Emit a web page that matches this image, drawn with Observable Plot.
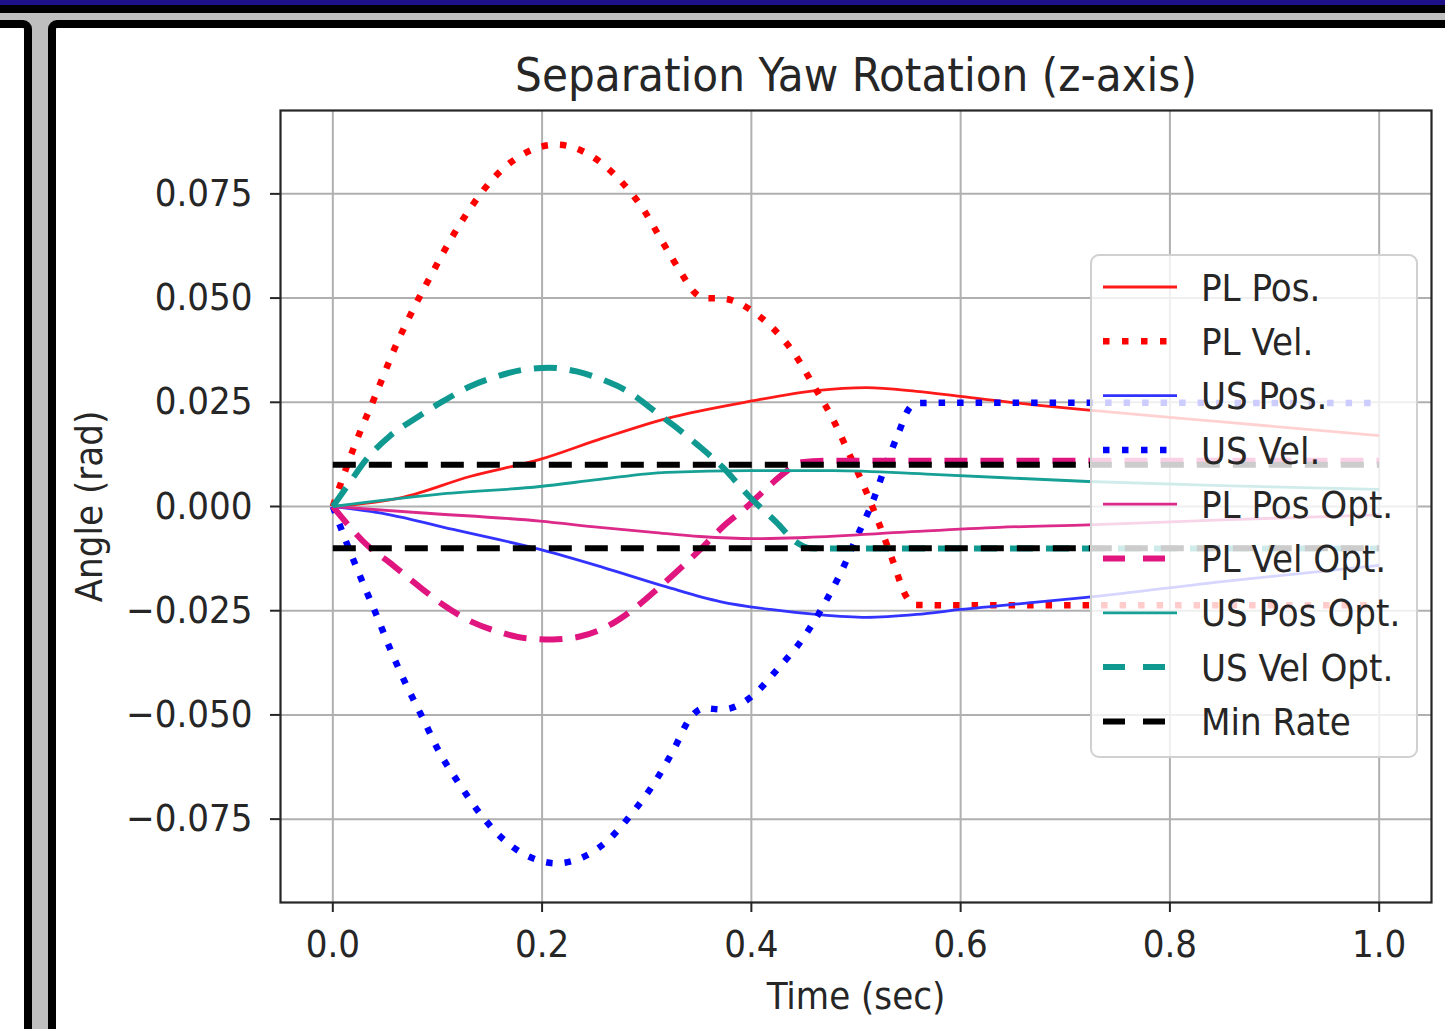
<!DOCTYPE html>
<html>
<head>
<meta charset="utf-8">
<script src="https://cdn.jsdelivr.net/npm/d3@7"></script>
<script src="https://cdn.jsdelivr.net/npm/@observablehq/plot@0.6"></script>
<style>
html, body { margin: 0; padding: 0; }
body { width: 1445px; height: 1029px; overflow: hidden; position: relative; background: #bfbfbf; }
#navy { position: absolute; left: 0; top: 0; width: 1445px; height: 5px; background: #1e1288; }
#blk { position: absolute; left: 0; top: 5px; width: 1445px; height: 8px; background: #000; }
#leftpanel { position: absolute; left: -20px; top: 20px; width: 36px; height: 1100px; border: 8px solid #000; border-radius: 0 9px 0 0; background: #fff; }
#mainpanel { position: absolute; left: 48px; top: 20px; width: 1500px; height: 1100px; border: 8px solid #000; border-radius: 9px 0 0 0; background: #fff; }
#chart { position: absolute; left: 0; top: 0; }
</style>
</head>
<body>
<div id="navy"></div>
<div id="blk"></div>
<div id="leftpanel"></div>
<div id="mainpanel"></div>
<div id="chart"></div>
<script>
// ---- text ----
const chartTitle = "Separation Yaw Rotation (z-axis)";
const xLabel = "Time (sec)";
const yLabel = "Angle (rad)";
const xTicks = [0, 0.2, 0.4, 0.6, 0.8, 1.0];
const yTicks = [-0.075, -0.05, -0.025, 0, 0.025, 0.05, 0.075];

// ---- series (time, value) ----
const plPosT = [0, 0.067, 0.131, 0.198, 0.258, 0.319, 0.398, 0.462, 0.51, 0.558, 0.6, 0.67, 0.72, 0.85, 1.0];
const plPos  = [0, 0.0022, 0.0072, 0.0113, 0.0164, 0.0211, 0.0252, 0.0278, 0.0285, 0.0276, 0.0264, 0.0244, 0.0232, 0.0203, 0.017];

const plVelT = [0, 0.02, 0.041, 0.062, 0.078, 0.095, 0.112, 0.131, 0.153, 0.181, 0.214, 0.247, 0.274, 0.297, 0.315, 0.334, 0.345, 0.355, 0.372, 0.389, 0.403, 0.418, 0.441, 0.46, 0.478, 0.493, 0.508, 0.522, 0.535, 0.548, 0.557, 0.6, 1.0];
const plVel  = [0, 0.0141, 0.0268, 0.0396, 0.0479, 0.056, 0.0638, 0.0714, 0.0786, 0.0844, 0.0868, 0.0841, 0.0784, 0.0712, 0.0635, 0.0556, 0.0515, 0.05, 0.0499, 0.0487, 0.0465, 0.0434, 0.0367, 0.0288, 0.0209, 0.0129, 0.0046, -0.0041, -0.0129, -0.0216, -0.0236, -0.0237, -0.0237];

const usPosT = [0, 0.051, 0.115, 0.198, 0.258, 0.319, 0.37, 0.418, 0.462, 0.51, 0.558, 0.6, 0.67, 0.72, 0.85, 1.0];
const usPos  = [0, -0.0018, -0.0055, -0.0103, -0.0146, -0.0193, -0.0228, -0.0247, -0.0259, -0.0266, -0.0259, -0.0247, -0.023, -0.0218, -0.018, -0.0141];

const usVelT = [0, 0.013, 0.027, 0.041, 0.055, 0.07, 0.086, 0.102, 0.121, 0.142, 0.166, 0.197, 0.214, 0.231, 0.262, 0.286, 0.307, 0.325, 0.342, 0.355, 0.372, 0.389, 0.403, 0.425, 0.45, 0.469, 0.486, 0.501, 0.516, 0.528, 0.542, 0.549, 0.558, 0.6, 1.0];
const usVel  = [0, -0.0086, -0.0173, -0.0256, -0.0343, -0.0427, -0.0508, -0.059, -0.0666, -0.0741, -0.0805, -0.0849, -0.0856, -0.0849, -0.0803, -0.0736, -0.0664, -0.0587, -0.0506, -0.0484, -0.0487, -0.0475, -0.045, -0.039, -0.0314, -0.0237, -0.0156, -0.0072, 0.0012, 0.0096, 0.0185, 0.0228, 0.0248, 0.0249, 0.0248];

const plPosOptT = [0, 0.083, 0.198, 0.255, 0.306, 0.351, 0.402, 0.446, 0.542, 0.637, 0.722, 0.85, 1.0];
const plPosOpt  = [0, -0.0015, -0.0035, -0.005, -0.0062, -0.0072, -0.0077, -0.0075, -0.0062, -0.005, -0.0044, -0.0032, -0.002];

const plVelOptT = [0, 0.016, 0.032, 0.054, 0.08, 0.105, 0.134, 0.16, 0.185, 0.21, 0.236, 0.262, 0.287, 0.312, 0.334, 0.354, 0.373, 0.396, 0.415, 0.434, 0.448, 0.47, 1.0];
const plVelOpt  = [0, -0.0048, -0.0091, -0.0134, -0.0187, -0.0235, -0.0278, -0.0302, -0.0316, -0.0319, -0.0312, -0.0288, -0.0247, -0.0194, -0.0144, -0.0096, -0.0048, 0, 0.0045, 0.0085, 0.0106, 0.011, 0.011];

const usPosOptT = [0, 0.1, 0.198, 0.255, 0.319, 0.398, 0.478, 0.573, 0.722, 0.85, 1.0];
const usPosOpt  = [0, 0.0029, 0.0048, 0.0065, 0.0082, 0.0086, 0.0086, 0.0077, 0.006, 0.005, 0.0041];

const usVelOptT = [0, 0.016, 0.032, 0.054, 0.08, 0.105, 0.131, 0.157, 0.182, 0.207, 0.233, 0.258, 0.284, 0.306, 0.327, 0.348, 0.373, 0.398, 0.424, 0.443, 0.456, 0.48, 1.0];
const usVelOpt  = [0, 0.0057, 0.0113, 0.0168, 0.0213, 0.0252, 0.0288, 0.0312, 0.0328, 0.0333, 0.0324, 0.0304, 0.0273, 0.0232, 0.0192, 0.0149, 0.0093, 0.0024, -0.0038, -0.0086, -0.01, -0.0101, -0.0101];

const minRateT = [0, 1.0];
const minRateLevels = [0.01, -0.01];

// ---- series styling ----
const seriesNames = ["PL Pos.", "PL Vel.", "US Pos.", "US Vel.", "PL Pos Opt.", "PL Vel Opt.", "US Pos Opt.", "US Vel Opt.", "Min Rate"];
const seriesColors = ["#ff1a1a", "#ff0000", "#3333ff", "#0000ff", "#dc2a8a", "#e0157f", "#16a096", "#0f9990", "#000000"];
const SOLID = null, DOT = "6.5,12", DASH = "23,13";
const seriesDash = [SOLID, DOT, SOLID, DOT, SOLID, DASH, SOLID, DASH, DASH];
const legendDash = [SOLID, "6.5,12.5", SOLID, "6.5,12.5", SOLID, "22,18", SOLID, "22,18", "22,18"];
const seriesWidth = [2.8, 6.5, 2.8, 6.5, 2.8, 6, 2.8, 6, 6];

const seriesT = [plPosT, plVelT, usPosT, usVelT, plPosOptT, plVelOptT, usPosOptT, usVelOptT];
const seriesV = [plPos, plVel, usPos, usVel, plPosOpt, plVelOpt, usPosOpt, usVelOpt];

const FONT = "'DejaVu Sans Condensed', 'DejaVu Sans', sans-serif";
const INK = "#262626";

const lineMarks = seriesT.map((ts, i) => {
  const rows = ts.map((t, j) => ({t, v: seriesV[i][j]}));
  return Plot.line(rows, {
    x: "t", y: "v", curve: "monotone-x",
    stroke: seriesColors[i], strokeWidth: seriesWidth[i],
    strokeDasharray: seriesDash[i] || undefined, strokeLinecap: "butt"
  });
});
const minRows = minRateLevels.flatMap((lv, k) => minRateT.map(t => ({t, v: lv, k})));
lineMarks.push(Plot.line(minRows, {
  x: "t", y: "v", z: "k", stroke: seriesColors[8], strokeWidth: seriesWidth[8],
  strokeDasharray: seriesDash[8], strokeLinecap: "butt"
}));

const svg = Plot.plot({
  width: 1445, height: 1029,
  marginLeft: 280, marginRight: 14, marginTop: 110, marginBottom: 127,
  style: {background: "none", fontFamily: FONT, fontSize: "38px", color: INK, overflow: "visible"},
  x: {domain: [-0.05, 1.05]},
  y: {domain: [-0.095, 0.095]},
  marks: [
    Plot.gridX({ticks: xTicks, stroke: "#b0b0b0", strokeOpacity: 1, strokeWidth: 2}),
    Plot.gridY({ticks: yTicks, stroke: "#b0b0b0", strokeOpacity: 1, strokeWidth: 2}),
    ...lineMarks,
    Plot.frame({stroke: INK, strokeWidth: 2.2}),
    Plot.axisX({ticks: xTicks, tickFormat: d3.format(".1f"), tickSize: 10, tickPadding: 18,
      strokeWidth: 2, fontSize: 38, label: xLabel, labelArrow: "none", labelAnchor: "center", labelOffset: 106}),
    Plot.axisY({ticks: yTicks, tickFormat: d3.format(".3f"), tickSize: 10, tickPadding: 18,
      strokeWidth: 2, fontSize: 38, label: yLabel, labelArrow: "none", labelAnchor: "center", labelOffset: 205}),
    Plot.text([chartTitle], {text: d => d, frameAnchor: "top", lineAnchor: "middle", dy: -35, fontSize: 47, fill: INK})
  ]
});
document.getElementById("chart").appendChild(svg);

// ---- legend (inside axes, upper right) ----
const lg = d3.select(svg).append("g").attr("font-family", FONT).attr("font-size", 38).attr("text-anchor", "start");
const box = {x: 1091, y: 255, w: 326, h: 502};
lg.append("rect").attr("x", box.x).attr("y", box.y).attr("width", box.w).attr("height", box.h)
  .attr("rx", 8).attr("fill", "white").attr("fill-opacity", 0.8)
  .attr("stroke", "#d0d0d0").attr("stroke-width", 2);
seriesNames.forEach((name, i) => {
  const cy = box.y + 32 + i * 54.3;
  lg.append("line").attr("x1", box.x + 12).attr("x2", box.x + 86).attr("y1", cy).attr("y2", cy)
    .attr("stroke", seriesColors[i]).attr("stroke-width", seriesWidth[i])
    .attr("stroke-dasharray", legendDash[i]).attr("stroke-linecap", "butt");
  lg.append("text").attr("x", box.x + 110).attr("y", cy).attr("dy", "0.36em")
    .attr("text-anchor", "start").attr("fill", INK).text(name);
});
</script>
</body>
</html>
